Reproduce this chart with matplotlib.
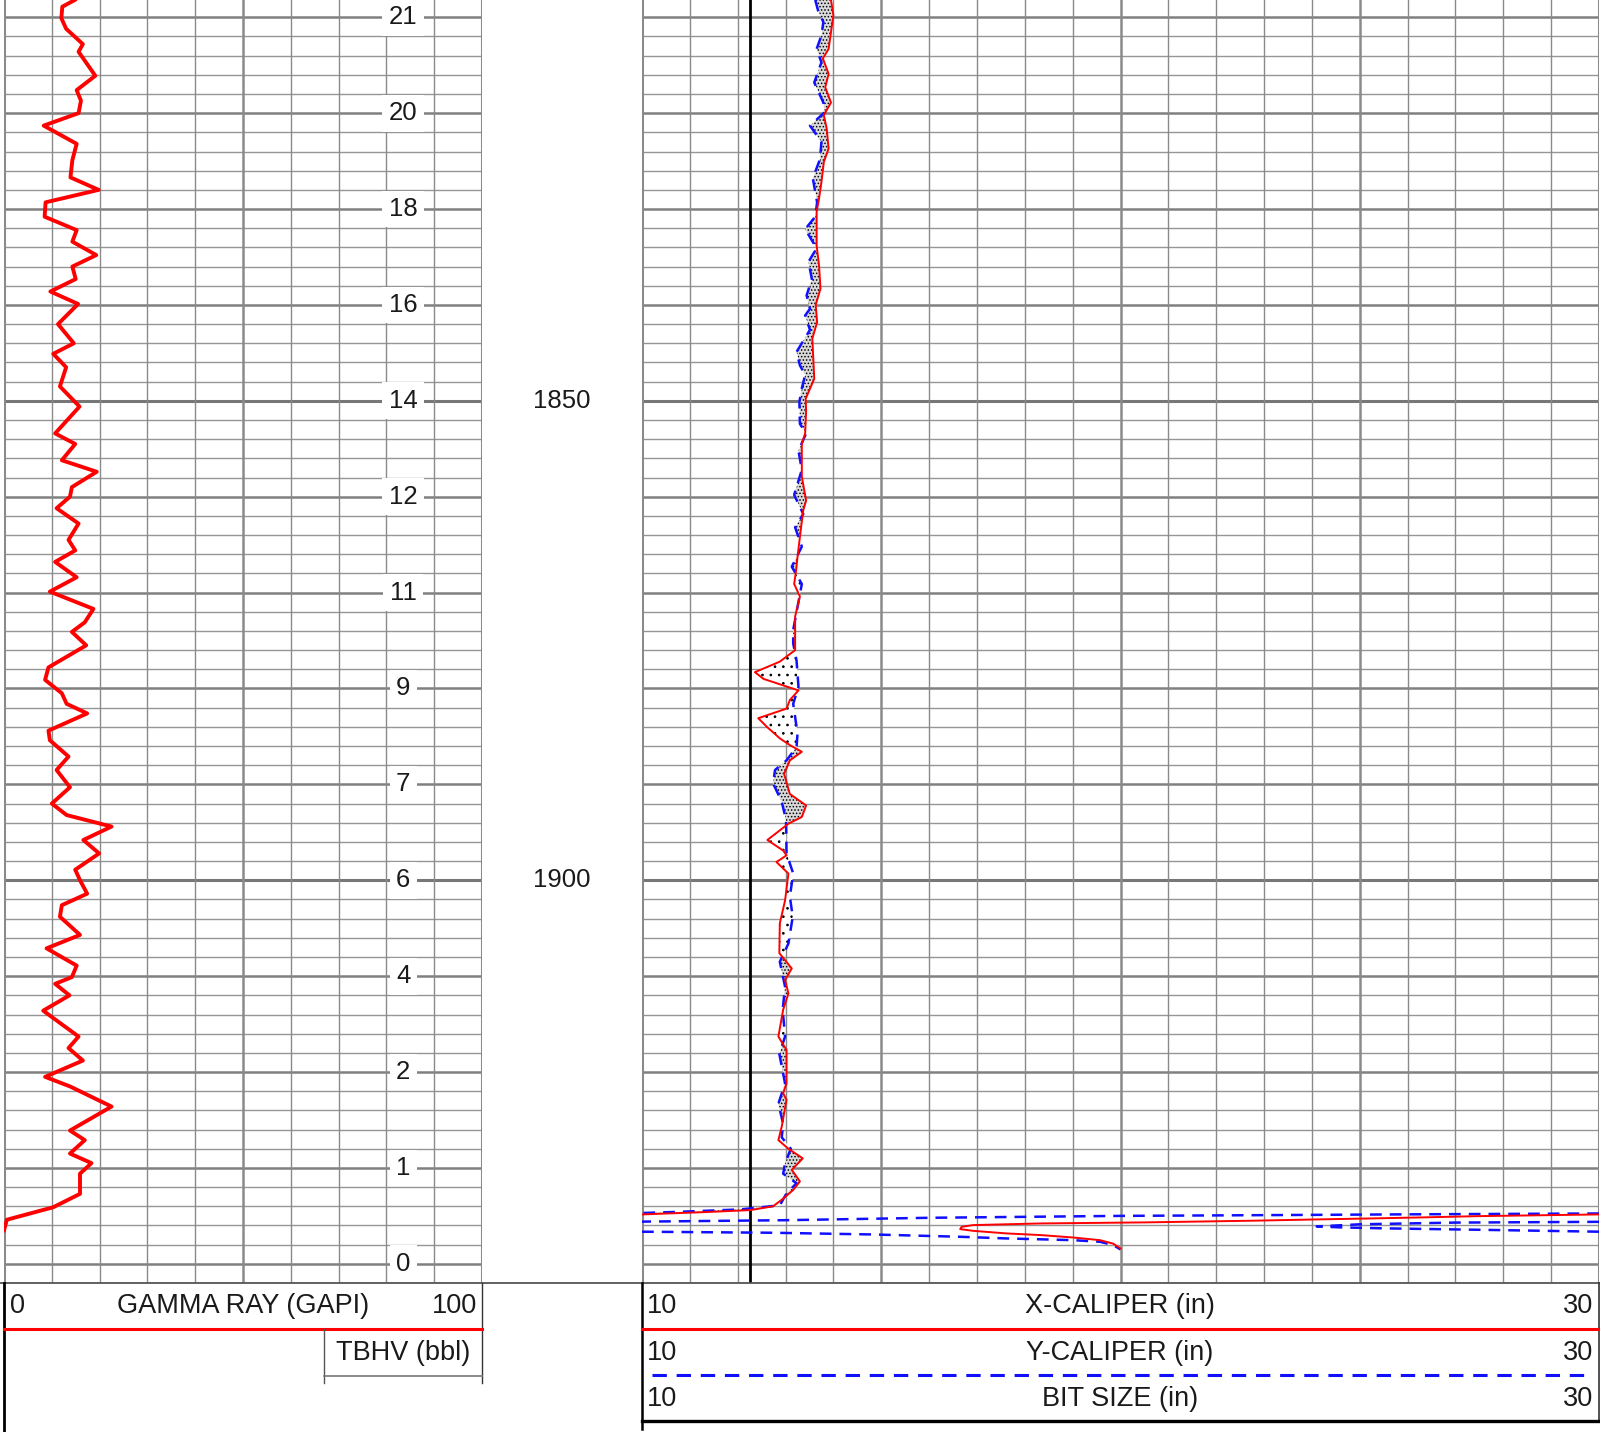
import numpy as np
import matplotlib
matplotlib.use('Agg')
import matplotlib.pyplot as plt

plt.rcParams['font.family'] = ['Liberation Sans', 'DejaVu Sans']
plt.rcParams['hatch.linewidth'] = 0.7

# ---------------- data ----------------
top_depth, bottom_depth = 1808.2, 1942.0

gr_depth = [1808.2, 1808.9, 1810.1, 1811.2, 1812.8, 1813.6, 1816.1, 1817.6, 1818.7, 1820.0,
            1821.3, 1823.2, 1824.9, 1826.7, 1828.0, 1829.3, 1830.8, 1832.2, 1833.4, 1834.8,
            1836.0, 1837.3, 1838.6, 1839.9, 1842.0, 1844.0, 1845.1, 1846.5, 1848.5, 1850.6,
            1853.4, 1854.5, 1856.2, 1857.4, 1859.0, 1860.0, 1861.2, 1862.8, 1864.5, 1865.6,
            1866.8, 1868.4, 1869.9, 1871.7, 1873.1, 1874.1, 1875.5, 1877.8, 1879.1, 1880.5,
            1881.6, 1882.6, 1884.4, 1885.4, 1887.1, 1888.5, 1890.3, 1892.0, 1893.2, 1894.4,
            1895.8, 1897.2, 1898.9, 1900.0, 1901.4, 1902.6, 1903.8, 1905.7, 1907.1, 1908.9,
            1910.1, 1910.8, 1912.0, 1913.6, 1916.3, 1917.5, 1918.8, 1920.5, 1921.5, 1923.6,
            1926.1, 1927.1, 1928.5, 1929.5, 1930.6, 1932.7, 1934.1, 1935.4, 1936.5]
gr_value = [14.8, 12.2, 12.0, 13.0, 16.5, 15.6, 19.1, 15.2, 16.1, 15.6,
            8.3, 15.2, 14.3, 13.9, 19.8, 8.7, 8.5, 15.2, 14.3, 19.3,
            14.3, 15.0, 9.7, 15.5, 11.3, 14.6, 10.3, 13.0, 11.7, 15.8,
            10.7, 14.9, 12.1, 19.4, 14.2, 13.8, 11.0, 15.6, 13.5, 14.9,
            10.7, 15.2, 9.6, 18.7, 16.9, 14.2, 17.2, 9.3, 8.6, 12.1,
            13.1, 17.4, 9.3, 9.6, 13.5, 11.0, 13.8, 10.0, 13.1, 22.5,
            16.6, 19.9, 14.9, 15.9, 17.4, 12.1, 11.7, 15.9, 8.9, 15.2,
            14.2, 10.7, 13.7, 8.2, 15.6, 13.5, 16.5, 8.6, 13.8, 22.5,
            13.8, 16.9, 13.8, 18.3, 15.9, 15.9, 10.3, 0.6, 0.0]

xcal_depth = [1808.2, 1809.8, 1813.3, 1814.3, 1815.9, 1817.3, 1818.9, 1820.2, 1821.6, 1823.7,
              1825.1, 1827.2, 1828.9, 1830.3, 1833.8, 1835.9, 1838.3, 1840.0, 1841.8, 1843.5,
              1847.7, 1849.8, 1851.0, 1853.4, 1854.5, 1857.9, 1860.4, 1861.4, 1864.2, 1866.3,
              1867.7, 1869.1, 1870.4, 1872.5, 1876.0, 1877.2, 1878.3, 1879.0, 1880.2, 1881.2,
              1882.1, 1883.1, 1884.0, 1885.2, 1885.9, 1886.6, 1887.5, 1888.9, 1891.0, 1892.2,
              1893.4, 1894.1, 1895.8, 1896.9, 1897.4, 1898.1, 1899.3, 1902.1, 1904.5, 1907.6,
              1909.2, 1910.4, 1911.8, 1913.5, 1916.3, 1917.7, 1921.2, 1922.2, 1922.9, 1925.7,
              1927.1, 1928.0, 1929.0, 1930.2, 1931.4, 1932.3, 1933.2, 1934.0, 1934.4, 1934.6,
              1934.85]
xcal_value = [13.95, 14.0, 13.9, 13.78, 13.9, 13.83, 13.95, 13.8, 13.86, 13.9,
              13.8, 13.75, 13.7, 13.65, 13.65, 13.7, 13.73, 13.63, 13.66, 13.56,
              13.6, 13.42, 13.43, 13.41, 13.34, 13.34, 13.43, 13.37, 13.30, 13.25,
              13.22, 13.18, 13.30, 13.20, 13.20, 12.88, 12.36, 12.54, 13.27, 13.09,
              13.02, 12.43, 12.61, 12.88, 13.09, 13.34, 13.09, 12.97, 13.09, 13.43,
              13.34, 13.06, 12.62, 12.95, 13.02, 12.81, 13.06, 12.99, 12.88, 12.87,
              13.13, 12.99, 13.06, 12.95, 12.85, 13.02, 13.02, 12.95, 13.02, 12.92,
              12.85, 13.06, 13.36, 13.13, 13.30, 13.16, 12.95, 12.74, 12.26, 11.35,
              10.0]
# wrapped (backup) part of the X-caliper, as displayed
xcal_wrap_depth = [1934.85, 1935.03, 1935.16, 1935.27, 1935.37, 1935.5, 1935.68, 1935.79,
                   1935.96, 1936.14, 1936.38, 1936.56, 1936.83, 1937.0, 1937.25, 1937.53,
                   1937.9, 1938.4]
xcal_wrap_value = [30.0, 27.45, 26.3, 25.2, 24.1, 22.8, 20.5, 18.32,
                   16.92, 16.68, 16.65, 16.92, 17.62, 18.32, 19.0, 19.57,
                   19.85, 20.0]

ycal_depth = [1808.2, 1809.3, 1810.5, 1811.9, 1813.3, 1814.7, 1816.8, 1818.9, 1819.9, 1821.3,
              1823.0, 1824.8, 1826.8, 1829.3, 1830.8, 1832.1, 1834.1, 1835.5, 1837.3, 1839.0,
              1840.4, 1841.1, 1842.6, 1844.9, 1846.3, 1847.3, 1848.7, 1850.1, 1852.4, 1853.4,
              1855.2, 1857.2, 1859.8, 1861.8, 1863.2, 1865.2, 1867.3, 1869.1, 1871.5, 1873.9,
              1875.3, 1877.1, 1879.8, 1881.6, 1884.7, 1886.1, 1887.5, 1888.5, 1889.9, 1891.8,
              1893.7, 1897.2, 1899.3, 1901.7, 1903.8, 1906.6, 1908.5, 1911.1, 1913.5, 1916.3,
              1918.1, 1921.2, 1923.3, 1925.4, 1926.8, 1928.0, 1929.5, 1930.6, 1931.6, 1932.66,
              1933.9, 1934.33, 1934.6, 1934.7]
ycal_value = [13.62, 13.68, 13.79, 13.75, 13.65, 13.75, 13.6, 13.79, 13.82, 13.51,
              13.75, 13.72, 13.57, 13.66, 13.62, 13.41, 13.65, 13.48, 13.55, 13.44,
              13.51, 13.41, 13.51, 13.23, 13.30, 13.41, 13.34, 13.29, 13.30, 13.43,
              13.27, 13.34, 13.18, 13.37, 13.20, 13.34, 13.13, 13.34, 13.25, 13.16,
              13.16, 13.23, 13.27, 13.16, 13.25, 13.23, 13.02, 12.78, 12.74, 12.92,
              13.01, 13.02, 13.16, 13.09, 13.15, 13.06, 12.88, 12.99, 12.94, 12.99,
              12.87, 12.99, 12.85, 12.95, 12.92, 13.11, 12.99, 12.95, 13.23, 13.02,
              12.88, 12.05, 10.65, 10.0]
# wrapped (backup) parts of the Y-caliper, as displayed
ycal_wrap1_depth = [1934.75, 1934.84, 1934.95, 1935.0, 1935.2, 1935.45, 1935.6]
ycal_wrap1_value = [30.0, 26.0, 22.0, 20.0, 16.0, 13.0, 10.0]
ycal_wrap2_depth = [1935.62, 1935.7, 1935.88, 1936.1, 1936.2, 1936.3, 1936.45, 1936.65]
ycal_wrap2_value = [30.0, 27.0, 25.0, 24.1, 24.6, 25.5, 27.5, 30.0]
ycal_wrap3_depth = [1936.65, 1936.76, 1936.94, 1937.18, 1937.35, 1937.53, 1937.7, 1938.05, 1938.5]
ycal_wrap3_value = [10.0, 12.74, 14.83, 16.65, 17.6, 19.0, 19.57, 19.85, 20.0]

bit_size_depth = [top_depth, bottom_depth]
bit_size_value = [12.25, 12.25]

tbhv_depth = [1810, 1820, 1830, 1840, 1850, 1860, 1870, 1880, 1890, 1900, 1910, 1920, 1930, 1940]
tbhv_label = [21, 20, 18, 16, 14, 12, 11, 9, 7, 6, 4, 2, 1, 0]

depth_labels = [1850, 1900]

gr_scale = (0, 100)
cal_scale = (10, 30)
gr_title = 'GAMMA RAY (GAPI)'
tbhv_title = 'TBHV (bbl)'
cal_titles = ['X-CALIPER (in)', 'Y-CALIPER (in)', 'BIT SIZE (in)']

# ---------------- figure ----------------
W, H = 1600, 1432
DPI = 100
fig = plt.figure(figsize=(W / DPI, H / DPI), dpi=DPI)
track_bottom = 1283
RED = '#ff0000'
BLUE = '#1010ff'
TXT = '#1a1a1a'
DASH = (0, (4.7, 3.2))
HFS = 19.5


def rect(x0, x1):
    return [x0 / W, (H - track_bottom) / H, (x1 - x0) / W, track_bottom / H]


ax_gr = fig.add_axes(rect(4, 482))
ax_dep = fig.add_axes(rect(482, 642))
ax_cal = fig.add_axes(rect(642, 1599))

for ax in (ax_gr, ax_dep, ax_cal):
    ax.set_ylim(bottom_depth, top_depth)
    ax.set_xticks([])
    ax.set_yticks([])
    for s in ax.spines.values():
        s.set_visible(False)
ax_gr.set_xlim(*gr_scale)
ax_cal.set_xlim(*cal_scale)
ax_dep.set_xlim(0, 1)


def depth_grid(ax):
    for d in np.arange(1810, 1943, 2):
        if d % 50 == 0:
            lw, c = 2.2, '#777777'
        elif d % 10 == 0:
            lw, c = 1.8, '#808080'
        else:
            lw, c = 1.0, '#959595'
        ax.axhline(d, color=c, lw=lw, zorder=0.5)


depth_grid(ax_gr)
depth_grid(ax_cal)

for v in range(gr_scale[0], gr_scale[1] + 1, 10):
    if v in gr_scale:
        lw = 2.2
    elif v == 50:
        lw = 1.8
    else:
        lw = 1.0
    ax_gr.axvline(v, color='#8a8a8a', lw=lw, zorder=0.6)

for v in range(cal_scale[0], cal_scale[1] + 1):
    if v in cal_scale:
        lw = 2.2
    elif v % 5 == 0:
        lw = 1.8
    else:
        lw = 1.0
    ax_cal.axvline(v, color='#8a8a8a', lw=lw, zorder=0.6)

# GR curve
ax_gr.plot(gr_value, gr_depth, color=RED, lw=2.8, zorder=3, solid_joinstyle='round')

# TBHV labels
for d, lab in zip(tbhv_depth, tbhv_label):
    ax_gr.text(83.5, d, str(lab), ha='center', va='center', fontsize=18.5, color=TXT, zorder=4,
               bbox=dict(boxstyle='square,pad=0.25', fc='white', ec='none'))

# depth labels
for d in depth_labels:
    ax_dep.text(0.5, d, str(d), ha='center', va='center', fontsize=18.5, color=TXT)

# caliper fill between X and Y
fd = np.union1d(xcal_depth, ycal_depth)
fd = fd[fd <= min(xcal_depth[-1], ycal_depth[-1])]
fx = np.interp(fd, xcal_depth, xcal_value)
fy = np.interp(fd, ycal_depth, ycal_value)
ax_cal.fill_betweenx(fd, fx, fy, where=fx >= fy, interpolate=True, facecolor='#d9d9d9',
                     edgecolor='black', hatch='.....', linewidth=0, zorder=1)
ax_cal.fill_betweenx(fd, fx, fy, where=fx < fy, interpolate=True, facecolor='white',
                     edgecolor='black', hatch='..', linewidth=0, zorder=1)

# bit size
ax_cal.plot(bit_size_value, bit_size_depth, color='black', lw=2.0, zorder=2)

# calipers
ax_cal.plot(ycal_value, ycal_depth, color=BLUE, lw=1.8, ls=DASH, zorder=3)
for dd, vv in ((ycal_wrap1_depth, ycal_wrap1_value), (ycal_wrap2_depth, ycal_wrap2_value),
               (ycal_wrap3_depth, ycal_wrap3_value)):
    ax_cal.plot(vv, dd, color=BLUE, lw=1.8, ls=DASH, zorder=3)
ax_cal.plot(xcal_value, xcal_depth, color=RED, lw=1.4, zorder=4)
ax_cal.plot(xcal_wrap_value, xcal_wrap_depth, color=RED, lw=1.4, zorder=4)

# ---------------- header ----------------
hd = fig.add_axes([0, 0, 1, 1], zorder=5)
hd.set_xlim(0, W)
hd.set_ylim(H, 0)
hd.axis('off')
hd.patch.set_alpha(0)

hd.plot([0, W], [track_bottom, track_bottom], color='#555555', lw=1.3)
# GR header
hd.plot([4, 4], [track_bottom, H], color='black', lw=2.0)
hd.plot([482, 482], [track_bottom, 1383], color='#333333', lw=1.0)
row_y = [1306, 1353, 1399]
hd.text(10, row_y[0], str(gr_scale[0]), ha='left', va='center', fontsize=HFS, color=TXT)
hd.text(243, row_y[0], gr_title, ha='center', va='center', fontsize=HFS, color=TXT)
hd.text(477, row_y[0], str(gr_scale[1]), ha='right', va='center', fontsize=HFS, color=TXT)
hd.plot([4, 482], [1329, 1329], color=RED, lw=2.2)
hd.plot([324, 324], [1329, 1383], color='#555555', lw=1.0)
hd.plot([324, 482], [1376, 1376], color='#777777', lw=1.2)
hd.text(403, row_y[1], tbhv_title, ha='center', va='center', fontsize=HFS, color=TXT)

# caliper header
hd.plot([642, 642], [track_bottom, 1429], color='black', lw=1.8)
hd.plot([1599, 1599], [track_bottom, 1421], color='#333333', lw=1.2)
for y, title in zip(row_y, cal_titles):
    hd.text(647, y, str(cal_scale[0]), ha='left', va='center', fontsize=HFS, color=TXT)
    hd.text(1120, y, title, ha='center', va='center', fontsize=HFS, color=TXT)
    hd.text(1593, y, str(cal_scale[1]), ha='right', va='center', fontsize=HFS, color=TXT)
hd.plot([642, 1599], [1329, 1329], color=RED, lw=2.2)
hd.plot([652, 1592], [1375, 1375], color=BLUE, lw=2.2, ls=DASH)
hd.plot([642, 1600], [1421, 1421], color='black', lw=2.4)

fig.savefig('out.png', dpi=DPI, facecolor='white')
